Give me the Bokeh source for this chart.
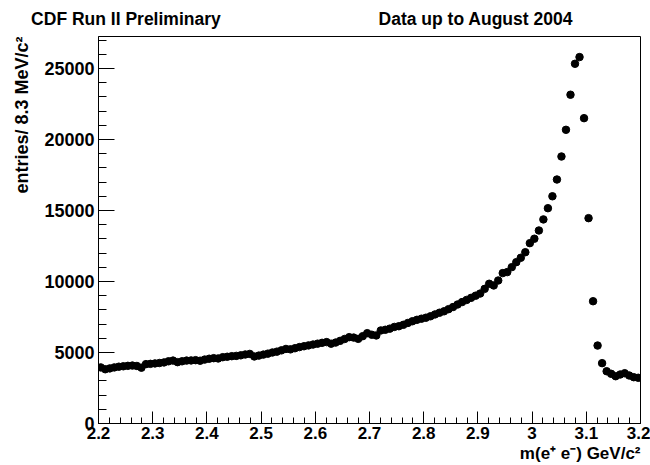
from bokeh.plotting import figure
from bokeh.models import Range1d, FixedTicker, ColumnDataSource, Title, LinearAxis
from bokeh.embed import file_html
from bokeh.resources import INLINE

# ---- data -------------------------------------------------------------
mass_lo = 2.2          # GeV/c^2, histogram lower edge
mass_hi = 3.2          # GeV/c^2, histogram upper edge
n_bins = 120           # 8.3 MeV/c^2 bins

entries = [
    3950, 3820, 3880, 3950, 4000, 4030, 4060, 4080, 4050, 3930,
    4180, 4200, 4230, 4260, 4300, 4380, 4430, 4320, 4380, 4430,
    4440, 4460, 4420, 4500, 4560, 4600, 4580, 4670, 4700, 4740,
    4760, 4800, 4860, 4900, 4720, 4780, 4850, 4920, 5000, 5060,
    5150, 5250, 5220, 5300, 5380, 5440, 5500, 5560, 5620, 5680,
    5730, 5620, 5700, 5820, 5950, 6080, 6050, 5960, 6150, 6360,
    6250, 6200, 6550, 6600, 6680, 6800, 6850, 6950, 7080, 7200,
    7300, 7380, 7450, 7550, 7680, 7800, 7900, 8050, 8200, 8380,
    8550, 8700, 8850, 9000, 9150, 9480, 9840, 9720, 10070, 10590,
    10660, 11010, 11360, 11670, 12060, 12700, 13010, 13590, 14370, 15160,
    16000, 17180, 18800, 20680, 23150, 25330, 25800, 21500, 14460, 8610,
    5490, 4250, 3680, 3500, 3330, 3450, 3540, 3380, 3260, 3220,
]

x_ticks = [2.2, 2.3, 2.4, 2.5, 2.6, 2.7, 2.8, 2.9, 3.0, 3.1, 3.2]
x_tick_labels = ["2.2", "2.3", "2.4", "2.5", "2.6", "2.7", "2.8", "2.9", "3", "3.1", "3.2"]
y_ticks = [0, 5000, 10000, 15000, 20000, 25000]
y_tick_labels = ["0", "5000", "10000", "15000", "20000", "25000"]
y_max = 27250

header_texts = ["CDF Run II Preliminary", "Data up to August 2004"]
y_title = "entries/ 8.3 MeV/c\u00b2"
x_title = "m(e\u207a e\u207b) GeV/c\u00b2"

# ---- derived ----------------------------------------------------------
bin_w = (mass_hi - mass_lo) / n_bins
centers = [mass_lo + (i + 0.5) * bin_w for i in range(n_bins)]
x_minor = [round(mass_lo + k * 0.02, 4) for k in range(51)]
y_minor = [k * 1000 for k in range(28)]

src = ColumnDataSource(data=dict(x=centers, y=entries))

# ---- style ------------------------------------------------------------
FONT = "Liberation Sans"
header_pos = [2.2506, 2.8961]   # horizontal centres of the two header texts (x units)

p = figure(width=650, height=465, output_backend="svg", toolbar_location=None,
           x_range=Range1d(mass_lo, mass_hi), y_range=Range1d(0, y_max),
           min_border_left=97, min_border_right=10, min_border_top=36, min_border_bottom=42)
p.background_fill_color = "white"
p.border_fill_color = "white"
p.outline_line_color = "black"
p.outline_line_width = 1
p.grid.visible = False

p.scatter("x", "y", source=src, size=7.5, color="black")

# axes
p.xaxis.ticker = FixedTicker(ticks=x_ticks, minor_ticks=x_minor)
p.xaxis.major_label_overrides = {t: l for t, l in zip(x_ticks, x_tick_labels)}
p.yaxis.ticker = FixedTicker(ticks=y_ticks, minor_ticks=y_minor)
p.yaxis.major_label_overrides = {t: l for t, l in zip(y_ticks, y_tick_labels)}

for ax in (p.xaxis, p.yaxis):
    ax.axis_line_color = "black"
    ax.major_tick_line_color = "black"
    ax.minor_tick_line_color = "black"
    ax.major_tick_out = 0
    ax.minor_tick_out = 0
    ax.major_label_text_font = FONT
    ax.major_label_text_font_style = "bold"
    ax.major_label_text_color = "black"

p.xaxis.major_label_text_font_size = "17px"
p.yaxis.major_label_text_font_size = "18px"
p.xaxis.major_tick_in = 12
p.xaxis.minor_tick_in = 6
p.xaxis.major_label_standoff = 3
p.yaxis.major_tick_in = 16
p.yaxis.minor_tick_in = 8
p.yaxis.major_label_standoff = 4

# header texts carried by a bare axis above the frame
head = LinearAxis(ticker=FixedTicker(ticks=header_pos, minor_ticks=[]),
                  major_label_overrides=dict(zip(header_pos, header_texts)))
head.axis_line_color = None
head.major_tick_line_color = None
head.minor_tick_line_color = None
head.major_tick_in = 0
head.major_tick_out = 0
head.major_label_standoff = 8
head.major_label_text_font = FONT
head.major_label_text_font_style = "bold"
head.major_label_text_font_size = "17.5px"
head.major_label_text_color = "black"
p.add_layout(head, "above")

# axis titles (ROOT style: aligned to the end of the axis)
p.add_layout(Title(text=y_title, align="right", text_font=FONT, text_font_style="bold",
                   text_font_size="18px", text_color="black", standoff=19), "left")
p.add_layout(Title(text=x_title, align="right", text_font=FONT, text_font_style="bold",
                   text_font_size="17px", text_color="black", standoff=0), "below")

open("out.html", "w").write(file_html(p, INLINE))
